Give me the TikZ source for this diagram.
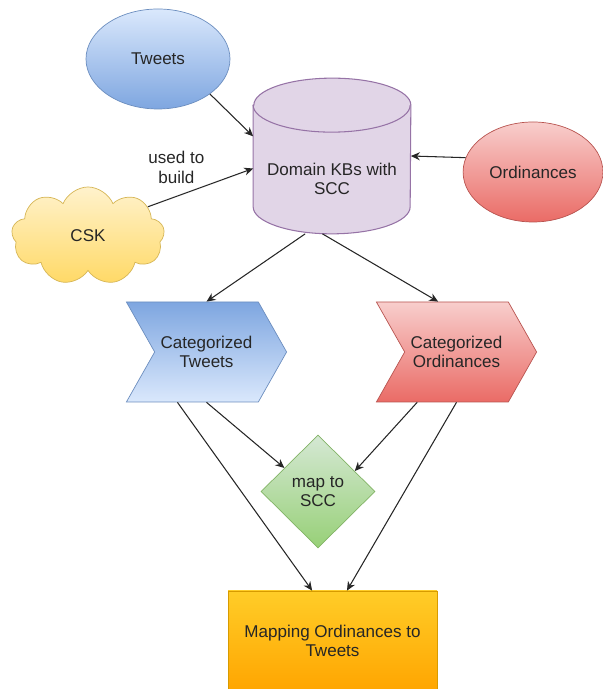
\documentclass[tikz,border=0pt]{standalone}
\usepackage{fontspec}
\setmainfont{Liberation Sans}
\usetikzlibrary{arrows.meta,positioning,shapes.geometric,shapes.symbols}

\definecolor{blueLight}{HTML}{DAE8FC}
\definecolor{blueDark}{HTML}{7EA6E0}
\definecolor{blueLine}{HTML}{6C8EBF}
\definecolor{redLight}{HTML}{F8CECC}
\definecolor{redDark}{HTML}{EA6B66}
\definecolor{redLine}{HTML}{B85450}
\definecolor{yellowLight}{HTML}{FFF2CC}
\definecolor{yellowDark}{HTML}{FFD966}
\definecolor{yellowLine}{HTML}{D6B656}
\definecolor{purpleFill}{HTML}{E1D5E7}
\definecolor{purpleLine}{HTML}{9673A6}
\definecolor{greenLight}{HTML}{D5E8D4}
\definecolor{greenDark}{HTML}{97D077}
\definecolor{greenLine}{HTML}{82B366}
\definecolor{orangeLight}{HTML}{FFCD28}
\definecolor{orangeDark}{HTML}{FFA500}
\definecolor{orangeLine}{HTML}{D79B00}

\begin{document}
\begin{tikzpicture}[x=1cm,y=1cm]
\tikzset{
  flowtext/.style={font=\fontsize{9.7}{11.2}\selectfont,align=center,text=black!85},
  srcblue/.style={ellipse,draw=blueLine,top color=blueLight,bottom color=blueDark,flowtext,minimum width=2.88cm,minimum height=2.0cm},
  srcred/.style={ellipse,draw=redLine,top color=redLight,bottom color=redDark,flowtext,minimum width=2.74cm,minimum height=2.0cm},
  srccloud/.style={cloud,cloud puffs=9,cloud puff arc=135,aspect=1.55,draw=yellowLine,top color=yellowLight,bottom color=yellowDark,flowtext,minimum width=3.06cm,minimum height=1.96cm,inner sep=0pt},
  kbbox/.style={rectangle,minimum width=3.14cm,minimum height=3.10cm,inner sep=0pt},
  kbshape/.style={draw=purpleLine,fill=purpleFill,line width=0.6pt},
  catblue/.style={signal,signal to=east,signal from=west,signal pointer angle=121,draw=blueLine,top color=blueDark,bottom color=blueLight,flowtext,minimum width=3.08cm,minimum height=2.0cm},
  catred/.style={signal,signal to=east,signal from=west,signal pointer angle=121,draw=redLine,top color=redLight,bottom color=redDark,flowtext,minimum width=3.08cm,minimum height=2.0cm},
  mapdiamond/.style={diamond,draw=greenLine,top color=greenLight,bottom color=greenDark,flowtext,minimum width=2.28cm,minimum height=2.26cm,inner sep=0pt},
  resultbox/.style={rectangle,draw=orangeLine,top color=orangeLight,bottom color=orangeDark,flowtext,minimum width=4.18cm,minimum height=2.0cm},
  flowarrow/.style={-{Stealth[length=1.8mm,width=1.6mm]},line width=0.6pt,black!85},
  edgelbl/.style={flowtext,inner sep=1pt}
}
\useasboundingbox (0,0) rectangle (12.04,13.78);
\node[srcblue] (n_tweets) at (3.16,12.60) {Tweets};
\node[srcred] (n_ord) at (10.66,10.34) {Ordinances};
\node[srccloud] (n_csk) at (1.76,9.06) {CSK};
\node[kbbox] (n_kb) at (6.64,10.66) {};
\path[kbshape] ([yshift=-0.54cm]n_kb.north west) -- ([yshift=0.54cm]n_kb.south west)
  arc[start angle=180,end angle=360,x radius=1.57cm,y radius=0.54cm]
  -- ([yshift=-0.54cm]n_kb.north east)
  arc[start angle=0,end angle=180,x radius=1.57cm,y radius=0.54cm] -- cycle;
\draw[kbshape,fill=none] ([yshift=-0.54cm]n_kb.north west)
  arc[start angle=180,end angle=360,x radius=1.57cm,y radius=0.54cm];
\node[flowtext] (n_kbtext) at ([yshift=-0.46cm]n_kb.center) {Domain KBs with\\SCC};
\node[catblue] (n_cattw) at (4.13,6.74) {Categorized\\Tweets};
\node[catred] (n_catord) at (9.13,6.74) {Categorized\\Ordinances};
\node[mapdiamond] (n_map) at (6.36,3.95) {map to\\SCC};
\node[resultbox] (n_result) at (6.65,0.96) {Mapping Ordinances to\\Tweets};
\draw[flowarrow] (n_tweets.-34) -- (n_kb.166);
\draw[flowarrow] (n_csk.26) -- node[edgelbl,pos=0.27,above=6pt] (n_build) {used to\\build} (n_kb.189);
\draw[flowarrow] (n_ord.168) -- (n_kb.east);
\draw[flowarrow] (n_kb.251) -- (n_cattw.north);
\draw[flowarrow] (n_kb.263) -- (n_catord.110);
\draw[flowarrow] (n_cattw.south) -- (n_map.145);
\draw[flowarrow] (n_catord.232) -- (n_map.29);
\draw[flowarrow] (n_cattw.240) -- (n_result.112);
\draw[flowarrow] (n_catord.south) -- (n_result.74);
\end{tikzpicture}
\end{document}
